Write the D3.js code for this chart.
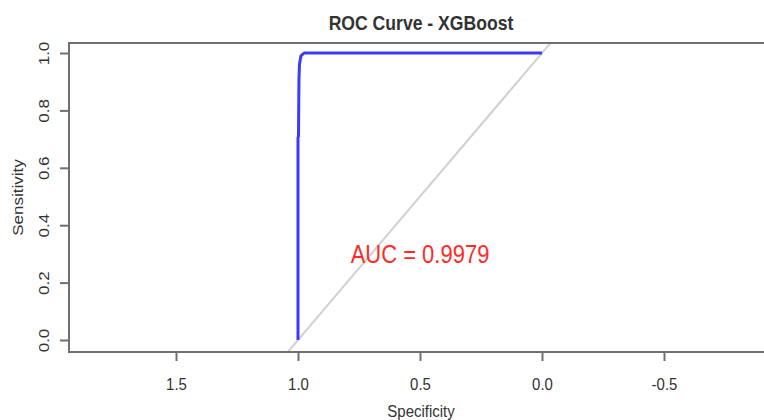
<!DOCTYPE html>
<html>
<head>
<meta charset="utf-8">
<script src="https://cdn.jsdelivr.net/npm/d3@7"></script>
<style>
  body { margin: 0; background: #fff; }
  text { font-family: "Liberation Sans", Arial, sans-serif; fill: #333; }
</style>
</head>
<body>
<div class="chart"></div>
<script>
const width = 764;
const height = 420;
// plot box (right side runs past the picture edge)
const box = { left: 69, top: 43, right: 773, bottom: 352 };
const squish = 0.88; // reference text looks narrowed

// data
const specificity = [1.000, 1.000, 0.998, 0.996, 0.994, 0.988, 0.975, 0.000];
const sensitivity = [0.000, 0.705, 0.710, 0.910, 0.960, 0.990, 1.000, 1.000];
const chanceSpec = [2, -1];
const chanceSens = [-1, 2];
const xTicks = [1.5, 1.0, 0.5, 0.0, -0.5];
const yTicks = [0.0, 0.2, 0.4, 0.6, 0.8, 1.0];
const aucLabel = 'AUC = 0.9979';

const svg = d3.select('.chart').append('svg')
    .attr('width', width)
    .attr('height', height)
    .attr('viewBox', `0 0 ${width} ${height}`);

svg.append('rect').attr('width', width).attr('height', height).attr('fill', '#fff');

const xScale = d3.scaleLinear().domain([1, 0]).range([298, 542]);
const yScale = d3.scaleLinear().domain([0, 1]).range([340, 53]);
const fmt = d => d.toFixed(1); // plain hyphen like R

svg.append('clipPath').attr('id', 'plotclip')
  .append('rect')
    .attr('x', box.left).attr('y', box.top)
    .attr('width', box.right - box.left).attr('height', box.bottom - box.top);

const plot = svg.append('g').attr('clip-path', 'url(#plotclip)');

/*  chance diagonal  */
const line = d3.line()
    .x(d => xScale(d[0]))
    .y(d => yScale(d[1]));
plot.append('path')
    .datum(chanceSpec.map((s, i) => [s, chanceSens[i]]))
    .attr('d', line)
    .attr('fill', 'none')
    .attr('stroke', '#d0d0d0')
    .attr('stroke-width', 2);

/*  roc curve  */
plot.append('path')
    .datum(specificity.map((s, i) => [s, sensitivity[i]]))
    .attr('d', line)
    .attr('fill', 'none')
    .attr('stroke', '#3b3bff')
    .attr('stroke-width', 3)
    .attr('stroke-linejoin', 'round');

/*  box  */
svg.append('rect')
    .attr('x', box.left).attr('y', box.top)
    .attr('width', box.right - box.left).attr('height', box.bottom - box.top)
    .attr('fill', 'none')
    .attr('stroke', '#707070')
    .attr('stroke-width', 2);

/*  x axis  */
const xAxis = svg.append('g')
    .attr('transform', `translate(0, ${box.bottom})`)
    .call(d3.axisBottom(xScale).tickValues(xTicks).tickSize(9).tickFormat(fmt));
xAxis.select('.domain').remove();
xAxis.selectAll('line').attr('stroke', '#707070').attr('stroke-width', 2);
xAxis.selectAll('text')
    .attr('y', 0).attr('dy', 0)
    .attr('fill', '#333')
    .style('font-size', '17px')
    .attr('transform', `translate(0, ${390 - box.bottom}) scale(${squish},1)`);

/*  y axis  */
const yAxis = svg.append('g')
    .attr('transform', `translate(${box.left}, 0)`)
    .call(d3.axisLeft(yScale).tickValues(yTicks).tickSize(9).tickFormat(fmt));
yAxis.select('.domain').remove();
yAxis.selectAll('line').attr('stroke', '#707070').attr('stroke-width', 2);
yAxis.selectAll('text')
    .attr('x', 0).attr('y', 0).attr('dy', 0)
    .attr('text-anchor', 'middle')
    .attr('fill', '#333')
    .style('font-size', '17px')
    .attr('transform', `translate(${48.5 - box.left}, 0) scale(${squish},1) rotate(-90)`);

/*  titles  */
const cx = (box.left + box.right) / 2;
svg.append('text')
    .attr('transform', `translate(${cx}, 30) scale(${squish},1)`)
    .attr('text-anchor', 'middle')
    .style('font-size', '20px')
    .style('font-weight', 'bold')
    .attr('fill', '#222')
    .text('ROC Curve - XGBoost');

svg.append('text')
    .attr('transform', `translate(${cx}, 417) scale(${squish},1)`)
    .attr('text-anchor', 'middle')
    .style('font-size', '17px')
    .text('Specificity');

svg.append('text')
    .attr('transform', `translate(22.5, ${(box.top + box.bottom) / 2}) scale(${squish},1) rotate(-90)`)
    .attr('text-anchor', 'middle')
    .style('font-size', '17px')
    .text('Sensitivity');

/*  auc label  */
svg.append('text')
    .attr('transform', `translate(${xScale(0.5)}, ${yScale(0.3) + 9}) scale(${squish},1)`)
    .attr('text-anchor', 'middle')
    .style('font-size', '25px')
    .style('fill', '#ff2a2a')
    .text(aucLabel);
</script>
</body>
</html>
